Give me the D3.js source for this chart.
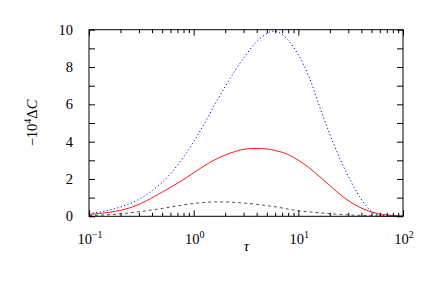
<!DOCTYPE html>
<html>
<head>
<meta charset="utf-8">
<script src="https://cdn.jsdelivr.net/npm/d3@7"></script>
<style>
  body { margin: 0; background: #fff; }
  text { font-family: "Liberation Serif", "DejaVu Serif", serif; }
</style>
</head>
<body>
<div class="chart"></div>
<script>
// tau grid (log spaced, read positions) and the three curves
var tau = [0.1, 0.126, 0.158, 0.2, 0.251, 0.316, 0.398, 0.501, 0.631, 0.794,
    1, 1.26, 1.58, 2, 2.51, 3.16, 3.98, 5.01, 5.62, 6.31, 7.94,
    10, 12.6, 15.8, 20, 25.1, 31.6, 39.8, 50.1, 57.5, 70.8, 100]

var blueVal = [0.15, 0.23, 0.34, 0.5, 0.7, 0.98, 1.35, 1.82, 2.42, 3.15,
    4.0, 4.95, 5.95, 6.95, 7.85, 8.65, 9.35, 9.8, 9.92, 9.88, 9.45,
    8.65, 7.5, 5.95, 4.4, 3.05, 1.9, 0.92, 0.27, 0.07, 0.01, 0.0]

var redVal = [0.1, 0.15, 0.22, 0.32, 0.47, 0.7, 0.98, 1.3, 1.62, 1.96,
    2.33, 2.7, 3.02, 3.28, 3.48, 3.61, 3.64, 3.61, 3.56, 3.5, 3.32,
    3.0, 2.62, 2.15, 1.65, 1.17, 0.76, 0.45, 0.23, 0.14, 0.07, 0.0]

var blackVal = [0.04, 0.06, 0.09, 0.13, 0.19, 0.26, 0.34, 0.42, 0.52, 0.61,
    0.69, 0.74, 0.77, 0.77, 0.74, 0.7, 0.64, 0.57, 0.53, 0.49, 0.39,
    0.3, 0.24, 0.19, 0.14, 0.1, 0.07, 0.05, 0.03, 0.02, 0.015, 0.01]

var xMajor = [0.1, 1, 10, 100]
var xExp = ["\u22121", "0", "1", "2"]
var yTicks = [0, 1, 2, 3, 4, 5, 6, 7, 8, 9, 10]
var yLabels = [0, 2, 4, 6, 8, 10]

var width = 436, height = 287
var margin = ({ top: 29.7, right: 33, bottom: 70.7, left: 89 })

var svg = d3.select(".chart").append("svg")
    .attr("width", width)
    .attr("height", height)

x = d3.scaleLog()
    .domain([0.1, 100])
    .range([margin.left, width - margin.right])

y = d3.scaleLinear()
    .domain([0, 10])
    .range([height - margin.bottom, margin.top])

var xMinor = x.ticks().filter(d => xMajor.indexOf(d) < 0)

function series(v) {
    return tau.map((d, i) => ({ t: d, v: v[i] }))
}

var line = d3.line()
    .x(d => x(d.t))
    .y(d => y(d.v))
    .curve(d3.curveMonotoneX)

var plot = svg.append("g").attr("fill", "none")

plot.append("path")
    .attr("d", line(series(blackVal)))
    .attr("stroke", "#222")
    .attr("stroke-width", 0.8)
    .attr("stroke-dasharray", "3,3")

plot.append("path")
    .attr("d", line(series(redVal)))
    .attr("stroke", "#ff0000")
    .attr("stroke-width", 0.9)

plot.append("path")
    .attr("d", line(series(blueVal)))
    .attr("stroke", "#0000ff")
    .attr("stroke-width", 1)
    .attr("stroke-dasharray", "1.2,2.4")

// ticks inward on all four sides
function noDomain(g) { g.select(".domain").remove() }

svg.append("g")
    .attr("transform", `translate(0,${y(0)})`)
    .call(d3.axisBottom(x).tickValues(xMajor).tickSize(-6).tickFormat(""))
    .call(noDomain)
svg.append("g")
    .attr("transform", `translate(0,${y(0)})`)
    .call(d3.axisBottom(x).tickValues(xMinor).tickSize(-3.5).tickFormat(""))
    .call(noDomain)
svg.append("g")
    .attr("transform", `translate(0,${y(10)})`)
    .call(d3.axisTop(x).tickValues(xMajor).tickSize(-6).tickFormat(""))
    .call(noDomain)
svg.append("g")
    .attr("transform", `translate(0,${y(10)})`)
    .call(d3.axisTop(x).tickValues(xMinor).tickSize(-3.5).tickFormat(""))
    .call(noDomain)
svg.append("g")
    .attr("transform", `translate(${x(0.1)},0)`)
    .call(d3.axisLeft(y).tickValues(yTicks).tickSize(-6).tickFormat(""))
    .call(noDomain)
svg.append("g")
    .attr("transform", `translate(${x(100)},0)`)
    .call(d3.axisRight(y).tickValues(yTicks).tickSize(-6).tickFormat(""))
    .call(noDomain)

svg.selectAll(".tick line").attr("stroke", "#000").attr("stroke-width", 1)

svg.append("rect")
    .attr("x", x(0.1))
    .attr("y", y(10))
    .attr("width", x(100) - x(0.1))
    .attr("height", y(0) - y(10))
    .attr("fill", "none")
    .attr("stroke", "#000")
    .attr("stroke-width", 1)

// tick labels
svg.append("g")
    .selectAll("text")
    .data(yLabels)
    .join("text")
    .attr("x", x(0.1) - 16)
    .attr("y", d => y(d))
    .attr("dy", "0.34em")
    .attr("text-anchor", "end")
    .attr("font-size", 14.5)
    .text(d => d)

var xl = svg.append("g")
    .selectAll("text")
    .data(xMajor)
    .join("text")
    .attr("x", d => x(d) + 1)
    .attr("y", 244)
    .attr("text-anchor", "middle")
    .attr("font-size", 14.5)
xl.append("tspan").text("10")
xl.append("tspan")
    .attr("dy", -6)
    .attr("font-size", 10)
    .text((d, i) => xExp[i])

svg.append("text")
    .attr("x", 246.5)
    .attr("y", 251)
    .attr("text-anchor", "middle")
    .attr("font-size", 15)
    .attr("font-style", "italic")
    .text("\u03c4")

var yl = svg.append("text")
    .attr("transform", `translate(37,${(y(0) + y(10)) / 2}) rotate(-90)`)
    .attr("text-anchor", "middle")
    .attr("font-size", 14.5)
yl.append("tspan").text("\u221210")
yl.append("tspan").attr("dy", -6).attr("font-size", 10).text("4")
yl.append("tspan").attr("dy", 6).text("\u0394")
yl.append("tspan").attr("font-style", "italic").text("C")
</script>
</body>
</html>
